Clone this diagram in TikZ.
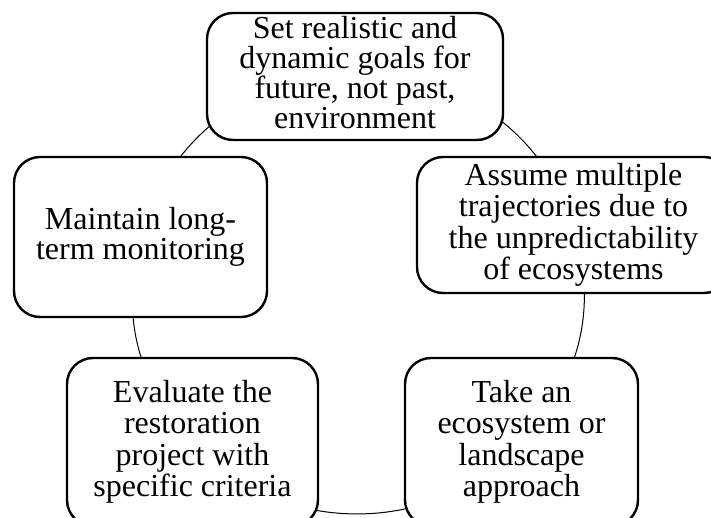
\documentclass[tikz,border=0pt]{standalone}
\usepackage{fontspec}
\setmainfont{Liberation Serif}
\usetikzlibrary{backgrounds}
\begin{document}
\begin{tikzpicture}[x=1pt,y=-1pt,
  stepbox/.style={draw=black, line width=2.4pt, rounded corners=26pt, fill=white,
    align=center, inner sep=2pt, font=\fontsize{32}{31.5}\selectfont},
  link/.style={draw=black, line width=1pt}]
\useasboundingbox (0,0) rectangle (711,518);
\node[stepbox, minimum width=296pt, minimum height=127pt,
  font=\fontsize{32}{30}\selectfont] (top) at (355,76.5)
  {Set realistic and\\dynamic goals for\\future, not past,\\environment\rule[-8pt]{0pt}{8pt}};
\node[stepbox, minimum width=313pt, minimum height=136pt] (right) at (573.5,225)
  {Assume multiple\\trajectories due to\\the unpredictability\\of ecosystems};
\node[stepbox, minimum width=233pt, minimum height=168pt] (br) at (521.5,442)
  {Take an\\ecosystem or\\landscape\\approach};
\node[stepbox, minimum width=251pt, minimum height=168pt] (bl) at (192.5,442)
  {Evaluate the\\restoration\\project with\\specific criteria};
\node[stepbox, minimum width=253pt, minimum height=160pt,
  font=\fontsize{32}{30}\selectfont] (left) at (140.5,237)
  {Maintain long-\\term monitoring};
\begin{scope}[on background layer]
\draw[link] (top.center) to[bend left=36.3] (right.center);
\draw[link] (right.center) to[bend left=29.75] (br.center);
\draw[link] (br.center) to[bend left=48.4] (bl.center);
\draw[link] (bl.center) to[bend left=28.3] (left.center);
\draw[link] (left.center) to[bend left=37.3] (top.center);
\end{scope}
\end{tikzpicture}
\end{document}
